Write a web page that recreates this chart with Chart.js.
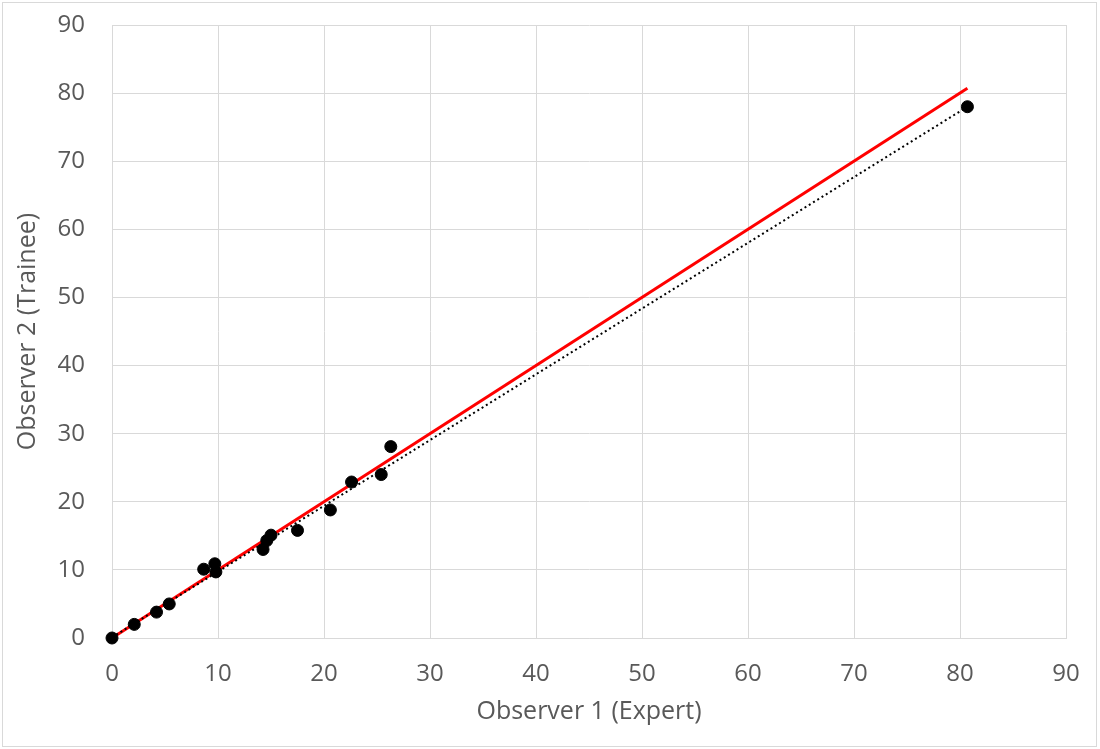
<!DOCTYPE html>
<html lang="en">
<head>
    <meta charset="UTF-8">
    <title>Observer 1 vs Observer 2</title>
    <script src="https://cdn.jsdelivr.net/npm/chart.js"></script>
    <style>
        html, body { margin: 0; padding: 0; background: #fff; }
        .frame { position: relative; width: 1100px; height: 749px; }
        .frame .border { position: absolute; left: 2px; top: 2px; width: 1093px; height: 743px; border: 1px solid #d9d9d9; pointer-events: none; }
        canvas { position: absolute; left: 0; top: 0; }
    </style>
</head>
<body>

<div class="frame">
    <canvas id="agreementChart" width="1100" height="749"></canvas>
    <div class="border"></div>
</div>

<script>
    const expertValues  = [0, 2.1, 4.2, 5.4, 8.65, 9.7, 9.8, 14.25, 14.6, 15.0, 17.5, 20.6, 22.6, 25.4, 26.3, 80.7];
    const traineeValues = [0, 2.0, 3.8, 5.0, 10.1, 10.9, 9.7, 13.0, 14.3, 15.1, 15.8, 18.8, 22.9, 24.0, 28.1, 78.0];

    // line of identity (red) and trend line (dotted) end points
    const identityX = [0, 80.7];
    const identityY = [0, 80.7];
    const trendX = [0, 80.7];
    const trendY = [0.1, 78.0];

    const axisTicks = [0, 10, 20, 30, 40, 50, 60, 70, 80, 90];

    const toPoints = (xs, ys) => xs.map((x, i) => ({ x: x, y: ys[i] }));

    const textColor = '#595959';
    const gridColor = '#d9d9d9';
    const fontFamily = "'Open Sans', 'Liberation Sans', sans-serif";

    const ctx = document.getElementById('agreementChart').getContext('2d');

    new Chart(ctx, {
        type: 'scatter',
        data: {
            datasets: [
                {
                    label: 'Measurements',
                    data: toPoints(expertValues, traineeValues),
                    backgroundColor: '#000',
                    borderColor: '#000',
                    pointRadius: 6,
                    pointBorderWidth: 1,
                    clip: false
                },
                {
                    label: 'Trend',
                    data: toPoints(trendX, trendY),
                    showLine: true,
                    borderColor: '#000',
                    borderWidth: 2,
                    borderDash: [2, 3],
                    pointRadius: 0,
                    clip: false
                },
                {
                    label: 'Identity',
                    data: toPoints(identityX, identityY),
                    showLine: true,
                    borderColor: '#ff0000',
                    borderWidth: 3,
                    pointRadius: 0,
                    clip: false
                }
            ]
        },
        options: {
            responsive: false,
            animation: false,
            layout: {
                padding: { top: 25, right: 34, bottom: 11, left: 0 }
            },
            plugins: {
                legend: { display: false },
                tooltip: { enabled: false }
            },
            scales: {
                x: {
                    type: 'linear',
                    min: 0,
                    max: 90,
                    afterBuildTicks: scale => { scale.ticks = axisTicks.map(v => ({ value: v })); },
                    afterFit: scale => {
                        scale.height = 100;
                        scale.paddingLeft = 0;
                        scale.paddingRight = 0;
                    },
                    grid: { color: gridColor, drawTicks: false, lineWidth: 1 },
                    border: { color: gridColor },
                    ticks: {
                        padding: 22,
                        color: textColor,
                        font: { family: fontFamily, size: 24 }
                    },
                    title: {
                        display: true,
                        text: 'Observer 1 (Expert)',
                        color: textColor,
                        font: { family: fontFamily, size: 25 },
                        padding: { top: 0, bottom: 11 }
                    }
                },
                y: {
                    type: 'linear',
                    min: 0,
                    max: 90,
                    afterBuildTicks: scale => { scale.ticks = axisTicks.map(v => ({ value: v })); },
                    afterFit: scale => {
                        scale.width = 112;
                        scale.paddingTop = 0;
                        scale.paddingBottom = 0;
                    },
                    grid: { color: gridColor, drawTicks: false, lineWidth: 1 },
                    border: { color: gridColor },
                    ticks: {
                        padding: 27,
                        color: textColor,
                        font: { family: fontFamily, size: 24 }
                    },
                    title: {
                        display: true,
                        text: 'Observer 2 (Trainee)',
                        color: textColor,
                        font: { family: fontFamily, size: 25 },
                        padding: { top: 13, bottom: 0 }
                    }
                }
            }
        }
    });
</script>

</body>
</html>
